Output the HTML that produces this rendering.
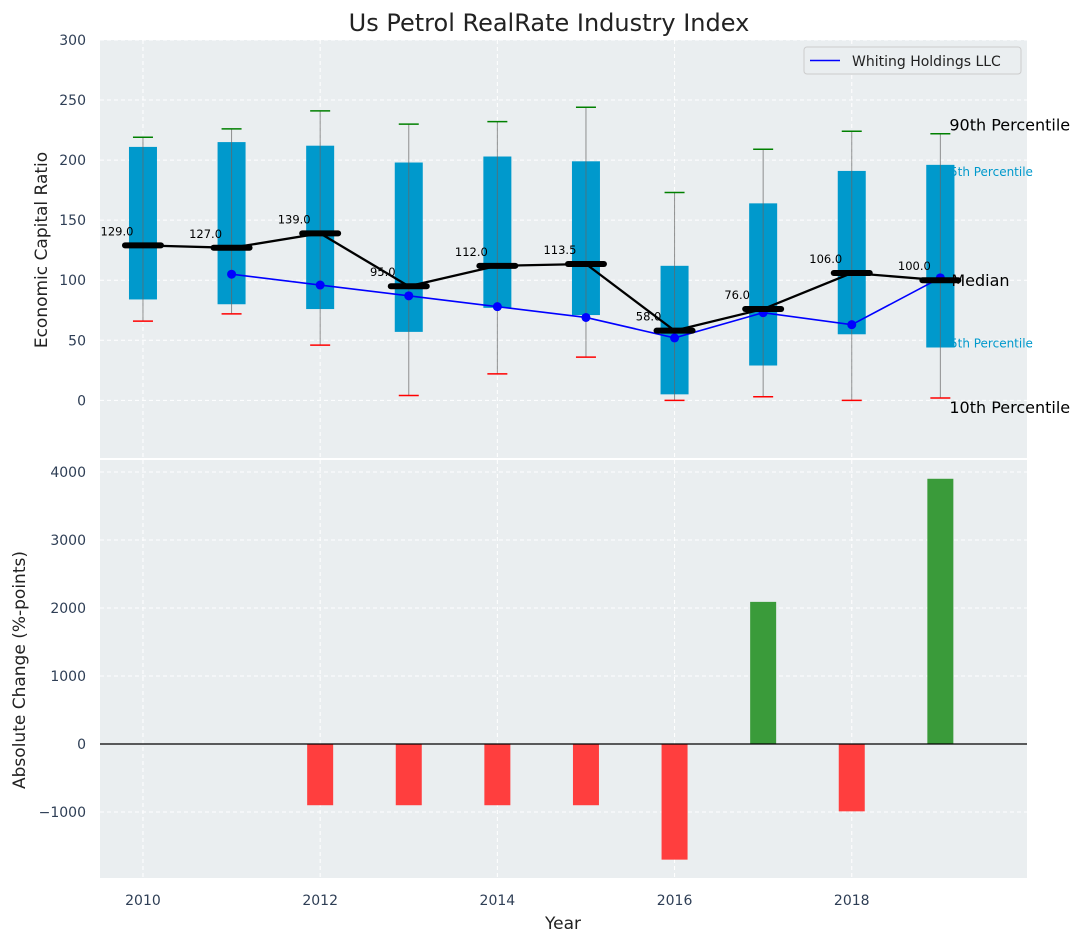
<!DOCTYPE html>
<html><head><meta charset="utf-8"><style>
body{margin:0;background:#fff;font-family:"Liberation Sans","DejaVu Sans",sans-serif}
svg text{font-family:"DejaVu Sans","Liberation Sans",sans-serif}
</style></head><body>
<svg id="c" width="1085" height="942" xmlns="http://www.w3.org/2000/svg"></svg>
<script>
const years=[2010,2011,2012,2013,2014,2015,2016,2017,2018,2019];
const p90=[219,226,241,230,232,244,173,209,224,222];
const p75=[211,215,212,198,203,199,112,164,191,196];
const p25=[84,80,76,57,77,71,5,29,55,44];
const p10=[66,72,46,4,22,36,0,3,0,2];
const medians=[129,127,139,95,112,113.5,58,76,106,100];
const companyYears=[2011,2012,2013,2014,2015,2016,2017,2018,2019];
const companyVals=[105,96,87,78,69,52,73,63,102];
const changeYears=[2012,2013,2014,2015,2016,2017,2018,2019];
const changeVals=[-900,-900,-900,-900,-1700,2090,-990,3900];
const topTicks=[0,50,100,150,200,250,300];
const botTicks=[-1000,0,1000,2000,3000,4000];
const xTicks=[2010,2012,2014,2016,2018];

const S=document.getElementById('c');const NS='http://www.w3.org/2000/svg';
function el(t,a,p){const e=document.createElementNS(NS,t);for(const k in a)e.setAttribute(k,a[k]);(p||S).appendChild(e);return e;}
const L=100,R=1027;
const XMIN=2009.515,XMAX=2019.978;
const x=v=>L+(v-XMIN)*(R-L)/(XMAX-XMIN);
const T0=40,T1=458,y1=v=>T0+(300-v)*(T1-T0)/(300+48);
const B0=460,B1=878,y2=v=>B0+(4176-v)*(B1-B0)/(4176+1970);

let e=el('rect',{x:L,y:T0,width:R-L,height:T1-T0,fill:'#eaeef0'});

e=el('rect',{x:L,y:B0,width:R-L,height:B1-B0,fill:'#eaeef0'});

xTicks.forEach(t=>{[[T0,T1],[B0,B1]].forEach(([a,b])=>{el('line',{x1:x(t),x2:x(t),y1:a,y2:b,stroke:'#fff','stroke-dasharray':'4,3'});});});
topTicks.forEach(t=>{el('line',{x1:L,x2:R,y1:y1(t),y2:y1(t),stroke:'#fff','stroke-dasharray':'4,3'});
 e=el('text',{x:L-14,y:y1(t)+5,'text-anchor':'end','font-size':14,fill:'#2e3e55'});e.textContent=t;
 });
botTicks.forEach(t=>{el('line',{x1:L,x2:R,y1:y2(t),y2:y2(t),stroke:'#fff','stroke-dasharray':'4,3'});
 e=el('text',{x:L-14,y:y2(t)+5,'text-anchor':'end','font-size':14,fill:'#2e3e55'});e.textContent=(t<0?'\u2212'+(-t):t);
 });
xTicks.forEach(t=>{e=el('text',{x:x(t),y:905,'text-anchor':'middle','font-size':14,fill:'#2e3e55'});e.textContent=t;
 });

years.forEach((yr,i)=>{const cx=x(yr);
 e=el('rect',{x:cx-14,y:y1(p75[i]),width:28,height:y1(p25[i])-y1(p75[i]),fill:'#0099cc'});
 
});
const lx=x(2019)+9;
function ann(t,yv,fs,col,dy,xx){e=el('text',{x:xx||lx,y:y1(yv)+dy,'font-size':fs,fill:col});e.textContent=t;
 }
ann('75th Percentile',p75[9],12,'#0099cc',11,x(2019)+2);
ann('25th Percentile',p25[9],12,'#0099cc',0,x(2019)+2);
e=el('rect',{x:x(2019)-14,y:y1(p75[9]),width:28,height:y1(p25[9])-y1(p75[9]),fill:'#0099cc'});
years.forEach((yr,i)=>{const cx=x(yr);
 e=el('line',{x1:cx,x2:cx,y1:y1(p90[i]),y2:y1(p10[i]),stroke:'#666','stroke-width':1,opacity:0.7});
 
 e=el('line',{x1:cx-10,x2:cx+10,y1:y1(p90[i]),y2:y1(p90[i]),stroke:'green','stroke-width':1.5});
 
 e=el('line',{x1:cx-10,x2:cx+10,y1:y1(p10[i]),y2:y1(p10[i]),stroke:'red','stroke-width':1.5});
 
});
e=el('polyline',{points:companyYears.map((yr,i)=>x(yr)+','+y1(companyVals[i])).join(' '),fill:'none',stroke:'blue','stroke-width':1.6});

companyYears.forEach((yr,i)=>{e=el('circle',{cx:x(yr),cy:y1(companyVals[i]),r:4.5,fill:'blue'});
 });
e=el('polyline',{points:years.map((yr,i)=>x(yr)+','+y1(medians[i])).join(' '),fill:'none',stroke:'#000','stroke-width':2.3});

years.forEach((yr,i)=>{const cx=x(yr),cy=y1(medians[i]);
 e=el('line',{x1:cx-18,x2:cx+18,y1:cy,y2:cy,stroke:'#000','stroke-width':6,'stroke-linecap':'round'});
 
 e=el('text',{x:cx-26,y:cy-10,'text-anchor':'middle','font-size':11.5,fill:'#000'});e.textContent=medians[i].toFixed(1);
 });
ann('90th Percentile',p90[9],16,'#000',-3);
ann('Median',medians[9],16,'#000',6,x(2019)+11);
ann('10th Percentile',p10[9],16,'#000',15);
e=el('g',{});
el('rect',{x:804,y:47,width:217,height:27,rx:3,fill:'#eaeef0',stroke:'#ccc'},e);
el('line',{x1:810,x2:840,y1:60.5,y2:60.5,stroke:'blue','stroke-width':1.6},e);
let t=el('text',{x:852,y:66,'font-size':14,fill:'#222'},e);t.textContent='Whiting Holdings LLC';
changeYears.forEach((yr,i)=>{const v=changeVals[i];const a=y2(Math.max(v,0)),b=y2(Math.min(v,0));
 e=el('rect',{x:x(yr)-13,y:a,width:26,height:b-a,fill:v>=0?'#3a9b3a':'#ff3e3e'});
 });
el('line',{x1:L,x2:R,y1:y2(0),y2:y2(0),stroke:'#000','stroke-width':1.2});
e=el('text',{x:549,y:31,'text-anchor':'middle','font-size':24,fill:'#222'});e.textContent='Us Petrol RealRate Industry Index';

e=el('text',{x:47,y:250,'text-anchor':'middle','font-size':17,fill:'#222',transform:'rotate(-90 47 250)'});e.textContent='Economic Capital Ratio';

e=el('text',{x:25,y:670,'text-anchor':'middle','font-size':17,fill:'#222',transform:'rotate(-90 25 670)'});e.textContent='Absolute Change (%-points)';

e=el('text',{x:563,y:929,'text-anchor':'middle','font-size':17,fill:'#222'});e.textContent='Year';

</script>
</body></html>
